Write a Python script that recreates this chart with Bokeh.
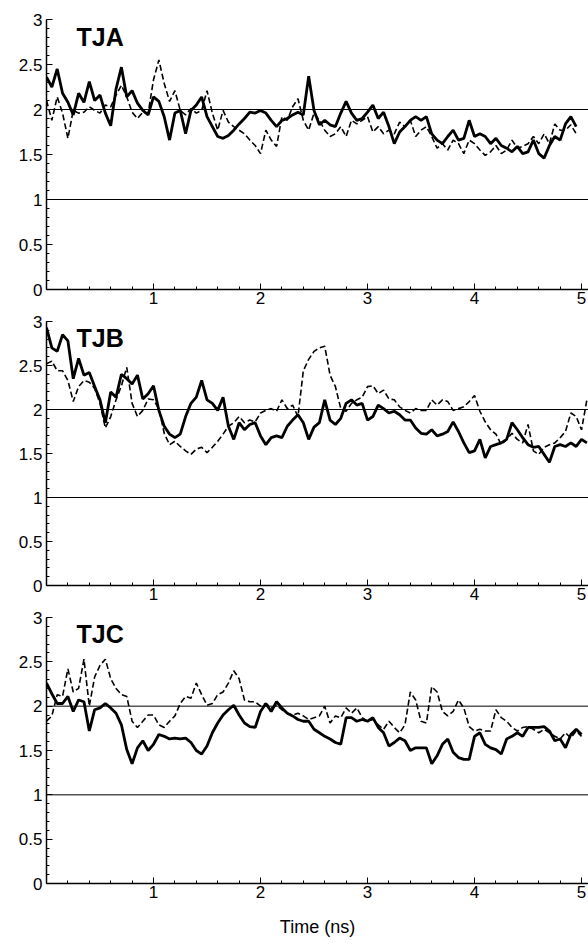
from bokeh.plotting import figure
from bokeh.layouts import column
from bokeh.models import Range1d, Span, Label, FixedTicker, CustomJSTickFormatter
from bokeh.embed import file_html
from bokeh.resources import INLINE

# ---------------- data ----------------
PANELS = ["TJA", "TJB", "TJC"]
X_TICKS = [1, 2, 3, 4, 5]
Y_TICKS = [0, 0.5, 1, 1.5, 2, 2.5, 3]
REF_LEVELS = [1, 2]

# time axis, 0.05 ns sampling
TIME = [round(0.05 * i, 2) for i in range(102)]

tja_solid = [2.36, 2.25, 2.45, 2.18, 2.08, 1.94, 2.18, 2.08, 2.31, 2.10,
             2.16, 1.96, 1.82, 2.23, 2.47, 2.14, 2.21, 2.07, 1.99, 1.94,
             2.14, 2.09, 1.92, 1.66, 1.96, 1.99, 1.73, 1.99, 2.05, 2.14,
             1.92, 1.81, 1.70, 1.68, 1.71, 1.77, 1.84, 1.90, 1.97, 1.96,
             1.99, 1.96, 1.88, 1.81, 1.88, 1.90, 1.94, 1.97, 1.94, 2.37,
             1.99, 1.83, 1.88, 1.83, 1.81, 1.96, 2.09, 1.96, 1.88, 1.90,
             1.97, 2.05, 1.90, 1.97, 1.81, 1.62, 1.75, 1.81, 1.88, 1.92,
             1.88, 1.92, 1.73, 1.66, 1.62, 1.70, 1.77, 1.66, 1.68, 1.88,
             1.70, 1.73, 1.70, 1.62, 1.68, 1.60, 1.57, 1.53, 1.59, 1.51,
             1.53, 1.66, 1.51, 1.46, 1.60, 1.70, 1.66, 1.84, 1.92, 1.81]
tja_dash = [2.10, 1.88, 2.14, 1.96, 1.68, 1.99, 1.96, 1.97, 2.03, 1.99,
            1.96, 2.05, 2.03, 2.16, 2.27, 2.14, 1.97, 1.90, 1.97, 1.96,
            2.33, 2.55, 2.29, 2.09, 2.21, 1.99, 1.94, 2.01, 1.96, 1.99,
            2.21, 1.96, 1.77, 1.99, 1.86, 1.81, 1.77, 1.73, 1.66, 1.60,
            1.51, 1.77, 1.66, 1.59, 1.92, 1.88, 2.03, 2.12, 1.88, 1.77,
            1.96, 1.88, 1.77, 1.70, 1.73, 1.81, 1.70, 1.88, 1.84, 1.88,
            1.92, 1.75, 1.81, 1.73, 1.77, 1.73, 1.86, 1.81, 1.88, 1.70,
            1.77, 1.81, 1.70, 1.57, 1.62, 1.55, 1.66, 1.62, 1.51, 1.66,
            1.62, 1.55, 1.49, 1.53, 1.60, 1.51, 1.55, 1.66, 1.57, 1.59,
            1.62, 1.70, 1.62, 1.73, 1.62, 1.84, 1.77, 1.77, 1.83, 1.73]

tjb_solid = [2.93, 2.70, 2.66, 2.85, 2.78, 2.35, 2.58, 2.39, 2.42, 2.26,
             2.11, 1.85, 2.20, 2.14, 2.40, 2.35, 2.29, 2.39, 2.12, 2.18,
             2.27, 1.99, 1.81, 1.72, 1.68, 1.72, 1.92, 2.07, 2.14, 2.33,
             2.11, 2.07, 1.99, 2.14, 1.81, 1.66, 1.85, 1.77, 1.83, 1.85,
             1.70, 1.60, 1.68, 1.70, 1.68, 1.81, 1.88, 1.94, 1.85, 1.66,
             1.80, 1.85, 2.11, 1.88, 1.83, 1.90, 2.07, 2.11, 2.05, 2.07,
             1.88, 1.92, 2.05, 2.01, 1.96, 1.98, 1.94, 1.88, 1.88, 1.79,
             1.73, 1.72, 1.77, 1.70, 1.72, 1.75, 1.86, 1.75, 1.62, 1.51,
             1.53, 1.66, 1.45, 1.58, 1.60, 1.62, 1.66, 1.85, 1.77, 1.68,
             1.60, 1.57, 1.58, 1.49, 1.40, 1.58, 1.60, 1.58, 1.62, 1.58,
             1.66, 1.62]
tjb_dash = [2.52, 2.55, 2.44, 2.44, 2.33, 2.09, 2.26, 2.33, 2.31, 2.24,
            2.07, 1.79, 1.92, 2.11, 2.27, 2.48, 2.07, 1.92, 1.99, 2.12,
            2.11, 2.01, 1.73, 1.60, 1.64, 1.58, 1.53, 1.49, 1.55, 1.57,
            1.51, 1.57, 1.64, 1.72, 1.81, 1.85, 1.92, 1.85, 1.88, 1.86,
            1.96, 1.99, 2.01, 1.98, 2.11, 2.01, 2.05, 1.92, 2.44, 2.57,
            2.66, 2.70, 2.72, 2.39, 2.26, 2.01, 1.98, 2.07, 2.11, 2.14,
            2.26, 2.27, 2.18, 2.22, 2.12, 2.11, 2.03, 1.99, 1.96, 2.01,
            1.99, 1.99, 2.11, 2.05, 2.11, 2.09, 1.99, 2.01, 2.03, 2.09,
            2.16, 1.98, 1.86, 1.77, 1.72, 1.60, 1.66, 1.73, 1.66, 1.62,
            1.83, 1.53, 1.49, 1.57, 1.60, 1.62, 1.68, 1.75, 1.96, 1.92,
            1.77, 2.11]

tjc_solid = [2.26, 2.14, 2.03, 2.03, 2.11, 1.94, 2.07, 2.05, 1.72, 1.96,
             1.98, 2.03, 1.98, 1.92, 1.79, 1.51, 1.35, 1.53, 1.61, 1.50,
             1.57, 1.68, 1.66, 1.63, 1.64, 1.63, 1.64, 1.59, 1.50, 1.46,
             1.55, 1.70, 1.81, 1.90, 1.96, 2.01, 1.90, 1.81, 1.77, 1.76,
             1.94, 2.03, 1.94, 2.05, 1.98, 1.92, 1.89, 1.85, 1.83, 1.83,
             1.74, 1.70, 1.66, 1.63, 1.59, 1.57, 1.87, 1.87, 1.83, 1.85,
             1.83, 1.87, 1.76, 1.70, 1.55, 1.59, 1.64, 1.61, 1.50, 1.53,
             1.53, 1.53, 1.35, 1.44, 1.57, 1.63, 1.48, 1.42, 1.40, 1.40,
             1.66, 1.70, 1.57, 1.53, 1.51, 1.46, 1.63, 1.66, 1.70, 1.66,
             1.76, 1.76, 1.76, 1.77, 1.72, 1.61, 1.63, 1.53, 1.68, 1.74,
             1.68]
tjc_dash = [1.83, 1.89, 2.13, 2.11, 2.42, 2.16, 2.20, 2.53, 2.00, 2.33,
            2.46, 2.53, 2.31, 2.20, 2.13, 2.11, 1.83, 1.76, 1.83, 1.90,
            1.90, 1.79, 1.76, 1.83, 1.89, 2.03, 2.11, 2.09, 2.26, 2.13,
            2.01, 2.03, 2.13, 2.16, 2.26, 2.40, 2.31, 2.07, 2.05, 2.05,
            2.00, 2.03, 1.98, 2.01, 1.96, 1.92, 1.90, 1.92, 1.89, 1.85,
            1.87, 1.89, 2.00, 1.81, 1.89, 1.87, 1.98, 1.92, 1.98, 1.87,
            1.83, 1.85, 1.79, 1.74, 1.83, 1.76, 1.70, 1.79, 2.16, 2.07,
            1.83, 1.81, 2.22, 2.16, 1.94, 1.89, 1.94, 2.07, 1.98, 1.77,
            1.72, 1.74, 1.72, 1.72, 1.96, 1.87, 1.83, 1.76, 1.72, 1.76,
            1.77, 1.74, 1.70, 1.74, 1.70, 1.66, 1.63, 1.70, 1.64, 1.72,
            1.66]

X_LABEL = "Time (ns)"

# ---------------- styling ----------------
FONT = "Liberation Sans"
W = 588


def make_panel(name, solid, dash, height, top, bottom):
    p = figure(width=W, height=height, output_backend="svg", toolbar_location=None,
               x_range=Range1d(0, 5.065), y_range=Range1d(0, 3),
               min_border_left=46, min_border_right=0,
               min_border_top=top, min_border_bottom=bottom)
    p.grid.visible = False
    p.outline_line_color = None

    for lv in REF_LEVELS:
        p.add_layout(Span(location=lv, dimension="width", line_color="black", line_width=1))

    p.line(TIME[:len(solid)], solid, line_color="black", line_width=2.8)
    p.line(TIME[:len(dash)], dash, line_color="black", line_width=1.6, line_dash="6 3")

    p.add_layout(Label(x=0.28, y=2.81, text=name, text_font=FONT, text_font_style="bold",
                       text_font_size="25px", text_baseline="alphabetic", text_color="black"))

    fmt = CustomJSTickFormatter(code="return String(Math.round(tick * 10) / 10);")
    xa = p.xaxis[0]
    xa.ticker = FixedTicker(ticks=X_TICKS, minor_ticks=[round(0.2 * i, 1) for i in range(27)])
    ya = p.yaxis[0]
    ya.ticker = FixedTicker(ticks=Y_TICKS, minor_ticks=[round(0.1 * i, 1) for i in range(31)])
    for ax in (xa, ya):
        ax.formatter = fmt
        ax.axis_line_width = 1.5
        ax.axis_line_color = "black"
        ax.major_tick_in = 6
        ax.major_tick_out = 0
        ax.minor_tick_in = 3
        ax.minor_tick_out = 0
        ax.major_tick_line_color = "black"
        ax.minor_tick_line_color = "black"
        ax.major_label_text_font = FONT
        ax.major_label_text_font_size = "17px"
        ax.major_label_text_color = "black"
    xa.major_label_standoff = 2
    ya.major_label_standoff = 4
    return p


pa = make_panel(PANELS[0], tja_solid, tja_dash, 311, 19, 22)
pb = make_panel(PANELS[1], tjb_solid, tjb_dash, 296, 10, 22)
pc = make_panel(PANELS[2], tjc_solid, tjc_dash, 337, 10, 61)
xc = pc.xaxis[0]
xc.axis_label = X_LABEL
xc.axis_label_text_font = FONT
xc.axis_label_text_font_size = "18px"
xc.axis_label_text_font_style = "normal"
xc.axis_label_text_color = "black"
xc.axis_label_standoff = 16

layout = column(pa, pb, pc, spacing=0)
open("out.html", "w").write(file_html(layout, INLINE))
